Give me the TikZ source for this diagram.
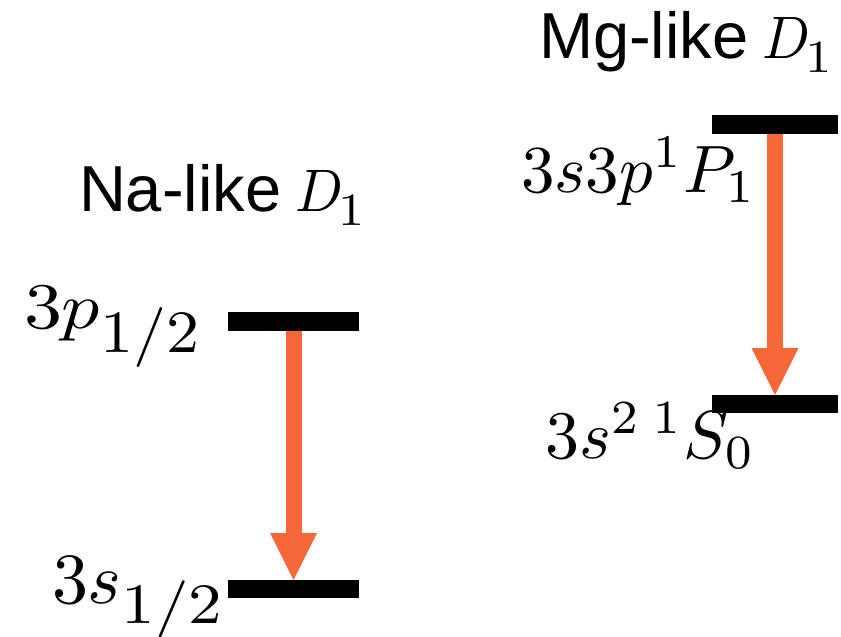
\documentclass[tikz,border=0pt]{standalone}
\usepackage{fontspec}
\setsansfont{Liberation Sans}
\usepackage{graphicx}
\usetikzlibrary{arrows.meta}
\definecolor{trorange}{RGB}{247,104,56}
\newcommand{\ttlword}[1]{{\fontsize{65}{65}\selectfont\sffamily #1}}
\newcommand{\ttlDone}{\scalebox{5.6}[6.0]{$D$}\hspace{-5pt}\raisebox{-14pt}{\scalebox{5.2}[4.6]{$1$}}}
\begin{document}
\begin{tikzpicture}[x=1pt,y=-1pt,
  level/.style={rectangle, fill=black, draw=none, inner sep=0pt, outer sep=0pt, minimum height=19pt},
  trans/.style={draw=trorange, fill=trorange, line width=16pt, -{Triangle[width=47pt,length=47pt,line width=0pt]}},
  lbl/.style={anchor=base west, inner sep=0pt, outer sep=0pt},
]
\useasboundingbox (0,0) rectangle (841,637);
% levels
\node[level, minimum width=131pt] (na3p) at (293.5,321.5) {};
\node[level, minimum width=131pt, minimum height=18pt] (na3s) at (293.5,589) {};
\node[level, minimum width=126pt] (mgP) at (775,124.5) {};
\node[level, minimum width=126pt, minimum height=18pt] (mgS) at (775,404) {};
% transitions
\draw[trans] (na3p.south) -- (na3s.north);
\draw[trans] (mgP.south) -- (mgS.north);
% level labels
\node[lbl] (l3p) at (24,328) {\scalebox{7.6}[6.5]{$3p$}\raisebox{-24pt}{\scalebox{6.6}[6.0]{$1/2$}}};
\node[lbl] (l3s) at (52,603) {\scalebox{7.2}{$3s$}\raisebox{-20pt}{\scalebox{6.7}[5.7]{$1/2$}}};
\node[lbl] (lP) at (521,192) {\scalebox{6.7}{$3s3p{}^1P_1$}};
\node[lbl] (lS) at (545,458) {\scalebox{6.8}{$3s^2\,{}^1S_0$}};
% titles
\node[lbl] (tNa) at (79,211) {\ttlword{Na-like}\hspace{14pt}\ttlDone};
\node[lbl] (tMg) at (539,58) {\ttlword{Mg-like}\hspace{14pt}\ttlDone};
\end{tikzpicture}
\end{document}
